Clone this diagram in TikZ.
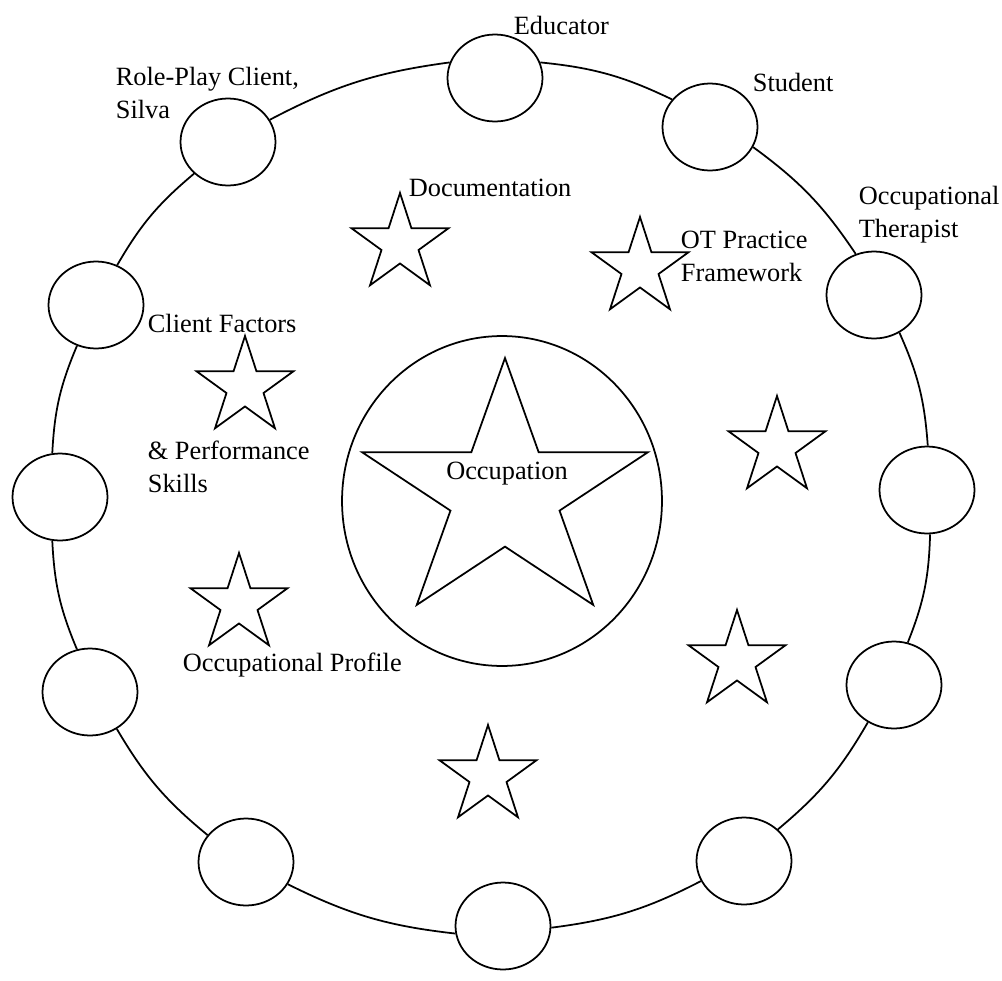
\documentclass[tikz,border=0pt]{standalone}
\usepackage{fontspec}
\setmainfont{Liberation Serif}
\usetikzlibrary{shapes.geometric}

\begin{document}
\begin{tikzpicture}[x=0.02cm, y=0.02cm, line width=1pt,
    every node/.style={font=\fontsize{15}{18.8}\selectfont},
    role/.style={draw, ellipse, minimum width=1.9cm, minimum height=1.74cm, inner sep=0pt},
    focus/.style={draw, star, star points=5, star point ratio=2.618, minimum size=2.04cm, inner sep=0pt},
    tag/.style={anchor=north west, inner sep=0pt, align=left}]
    \useasboundingbox (0,0) rectangle (1002,-981);

    % ring of roles
    \node[role] (educator)  at (495,-78)  {};
    \node[role] (student)   at (710,-127) {};
    \node[role] (therapist) at (874,-295) {};
    \node[role] (roleE)     at (927,-490) {};
    \node[role] (roleSE)    at (894,-685) {};
    \node[role] (roleSSE)   at (744,-861) {};
    \node[role] (roleS)     at (503,-926) {};
    \node[role] (roleSSW)   at (246,-862) {};
    \node[role] (roleSW)    at (90,-692)  {};
    \node[role] (roleW)     at (60,-497)  {};
    \node[role] (roleNW)    at (96,-305)  {};
    \node[role] (roleplay)  at (228,-142) {};
    \foreach \a/\b in {educator.161/roleplay.28, roleplay.-137/roleNW.62, roleNW.-115/roleW.100,
                       roleW.-100/roleSW.107, roleSW.-54/roleSSW.145, roleSSW.-28/roleS.189,
                       roleS.-2/roleSSE.205, roleSSE.43/roleSE.-125, roleSE.72/roleE.-86,
                       roleE.89/therapist.-56, therapist.114/student.-25, student.144/educator.19}
        \draw (\a) to[bend right=10] (\b);

    % centre
    \node[draw, ellipse, minimum width=6.4cm, minimum height=6.6cm] (core) at (502,-501) {};
    \begin{scope}[shift={(505,-494.5)}, xscale=1.1]
        \node[focus, minimum size=5.46cm, transform shape] (occstar) at (0,0) {};
    \end{scope}
    \node (occlbl) at (507,-474) {Occupation};

    % stars
    \node[focus] (docstar) at (400,-244) {};
    \node[focus] (otstar)  at (640,-268) {};
    \node[focus] (cfstar)  at (245,-387) {};
    \node[focus] (eastar)  at (777,-447) {};
    \node[focus] (opstar)  at (239,-604) {};
    \node[focus] (sestar)  at (737,-661) {};
    \node[focus] (sostar)  at (488,-776) {};

    % labels
    \node[tag] (educatorlbl)  at (513,-15)  {Educator};
    \node[tag] (studentlbl)   at (752,-72)  {Student};
    \node[tag] (therapistlbl) at (858,-185) {Occupational\\Therapist};
    \node[tag] (roleplaylbl)  at (115,-66)  {Role-Play Client,\\Silva};
    \node[tag] (doclbl)       at (408,-178) {Documentation};
    \node[tag] (otlbl)        at (680,-230) {OT Practice\\Framework};
    \node[tag] (cflbl)        at (147,-313) {Client Factors};
    \node[tag] (perflbl)      at (147,-440) {\& Performance\\Skills};
    \node[tag] (oplbl)        at (182,-652) {Occupational Profile};
\end{tikzpicture}
\end{document}
